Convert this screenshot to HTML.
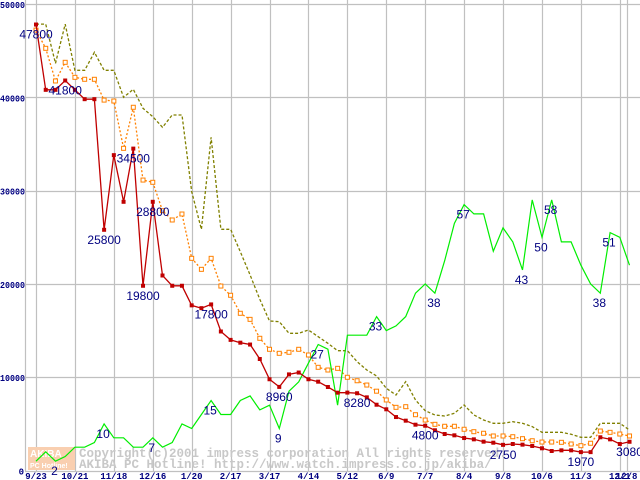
<!DOCTYPE html>
<html><head><meta charset="utf-8"><style>
html,body{margin:0;padding:0;background:#fff;}
svg{display:block;}
.ax{font-family:"Liberation Mono",monospace;font-size:9px;font-weight:bold;fill:#000080;}
.lb{font-family:"Liberation Sans",sans-serif;font-size:12px;fill:#000080;}
.wm{font-family:"Liberation Mono",monospace;font-size:12.5px;font-weight:bold;fill:#c8c8c8;}
</style></head><body>
<svg id="chart" width="640" height="480" viewBox="0 0 640 480" xmlns="http://www.w3.org/2000/svg">
<g id="grid"></g>
<g id="watermark">
<rect x="28" y="447" width="47" height="23" fill="#f9cfb0"/>
<text x="30" y="457" font-family="Liberation Sans,sans-serif" font-size="10" font-weight="bold" fill="#fff">AKIBA</text>
<text x="30" y="468" font-family="Liberation Sans,sans-serif" font-size="7" font-weight="bold" fill="#fff">PC Hotline!</text>
<text class="wm" x="79" y="457">Copyright(c)2001 impress corporation All rights reserved.</text>
<text class="wm" x="79" y="468">AKIBA PC Hotline!  http://www.watch.impress.co.jp/akiba/</text>
</g>
<g id="series"></g>
<g id="labels"></g>
</svg>
<script>
const redValues=[47800,40800,40800,41800,40800,39800,39800,25800,33800,28800,34500,19800,28800,20900,19800,19800,17700,17400,17800,14900,14000,13700,13500,11950,9780,8960,10300,10500,9780,9520,8950,8340,8350,8280,7840,7050,6560,5730,5340,4910,4800,4310,3910,3770,3480,3340,3090,2980,2750,2840,2770,2630,2380,2090,2160,2160,1970,1970,3560,3340,2840,3080];
const orangeValues=[47200,45250,41750,43750,42140,41930,41930,39700,39600,34530,38930,31130,30890,27850,26850,27490,22740,21560,22740,19770,18780,16850,16200,14170,12990,12560,12670,12990,12380,11060,10770,10950,9990,9620,9160,8500,7560,6770,6840,5980,5410,4950,4740,4740,4420,4160,3990,3700,3700,3620,3410,3190,3050,3050,3020,2840,2660,2920,4230,4090,3910,3700];
const oliveValues=[47850,47850,43640,47850,42890,42890,44820,42890,42890,40000,40860,38820,37920,36780,38100,38100,29880,25850,35710,25850,25850,23450,20950,18350,16020,15950,14700,14700,15060,14340,13630,12840,12840,11660,10770,10130,8810,8090,9520,7560,6410,5950,5840,6130,7020,5950,5410,5060,5060,5230,5060,4700,4090,4090,4090,3880,3560,3560,5060,5060,5060,4340];
const greenCounts=[2,4,2,3,5,5,6,10,7,7,5,5,7,5,6,10,9,12,15,12,12,15,16,13,14,9,17,19,23,27,26,14,29,29,29,33,30,31,33,38,40,38,45,53,57,55,55,47,52,49,43,58,50,58,49,49,44,40,38,51,50,44];
const redLabelIdx=[0,3,7,10,11,12,18,25,33,40,48,56,61];
const greenLabelIdx=[2,7,12,18,25,29,35,41,44,50,52,53,58,59];
const yTicks=[0,10000,20000,30000,40000,50000];
const xTickLabels=["9/23","10/21","11/18","12/16","1/20","2/17","3/17","4/14","5/12","6/9","7/7","8/4","9/8","10/6","11/3","12/1","12/8"];
const xTickIdx=[0,4,8,12,16,20,24,28,32,36,40,44,48,52,56,60,60.7];

const NS="http://www.w3.org/2000/svg";
function xS(i){return 36+i*9.73;}
function yS(v){return 470.5-v*93.3/10000;}
function mk(tag,attrs,parent){const e=document.createElementNS(NS,tag);for(const k in attrs)e.setAttribute(k,attrs[k]);parent.appendChild(e);return e;}
const grid=document.getElementById('grid'),series=document.getElementById('series'),labels=document.getElementById('labels');

yTicks.forEach(v=>{
  const l=mk('line',{x1:25,x2:640,y1:Math.round(yS(v))+0.5,y2:Math.round(yS(v))+0.5,stroke:'#c0c0c0','stroke-width':1.2},grid);
  
  
  const s=String(v);
  const t=mk('text',{x:v===0?24:25,y:yS(v)+4,'text-anchor':'end',class:'ax'},grid);
  if(s.length>1){t.setAttribute('textLength',s.length*5);t.setAttribute('lengthAdjust','spacingAndGlyphs');}
  t.textContent=s;
  
  
});
const ax=mk('line',{x1:25.5,x2:25.5,y1:0,y2:471,stroke:'#c0c0c0','stroke-width':1.2},grid);


xTickIdx.forEach((i,k)=>{
  const x=Math.round(xS(i))+0.5;
  const l=mk('line',{x1:x,x2:x,y1:0,y2:471,stroke:'#c0c0c0','stroke-width':1.2},grid);
  
  
  const t=mk('text',{x:xS(i),y:479,'text-anchor':'middle',class:'ax'},grid);
  t.textContent=xTickLabels[k];
  
  
});

function pts(arr,scale){return arr.map((v,i)=>xS(i).toFixed(1)+','+yS(v*scale).toFixed(1)).join(' ');}
const olive=mk('polyline',{points:pts(oliveValues,1),fill:'none',stroke:'#808000','stroke-width':1.3,'stroke-dasharray':'3,2'},series);


const orange=mk('polyline',{points:pts(orangeValues,1),fill:'none',stroke:'#ff8000','stroke-width':1.3,'stroke-dasharray':'2,2'},series);


orangeValues.forEach((v,i)=>{
  const r=mk('rect',{x:xS(i)-2,y:yS(v)-2,width:4,height:4,fill:'#fff',stroke:'#ff8000','stroke-width':1},series);
  
  
});
const green=mk('polyline',{points:pts(greenCounts,500),fill:'none',stroke:'#00ee00','stroke-width':1.2},series);


const red=mk('polyline',{points:pts(redValues,1),fill:'none',stroke:'#c00000','stroke-width':1.3},series);


redValues.forEach((v,i)=>{
  const r=mk('rect',{x:xS(i)-2,y:yS(v)-2,width:4,height:4,fill:'#c00000'},series);
  
  
});
redLabelIdx.forEach(i=>{
  const t=mk('text',{x:xS(i),y:yS(redValues[i])+14,'text-anchor':'middle',class:'lb'},labels);
  t.textContent=String(redValues[i]);
  
  
});
greenLabelIdx.forEach(i=>{
  const t=mk('text',{x:xS(i)-1,y:yS(greenCounts[i]*500)+14,'text-anchor':'middle',class:'lb'},labels);
  t.textContent=String(greenCounts[i]);
  
  
});
</script>
</body></html>
